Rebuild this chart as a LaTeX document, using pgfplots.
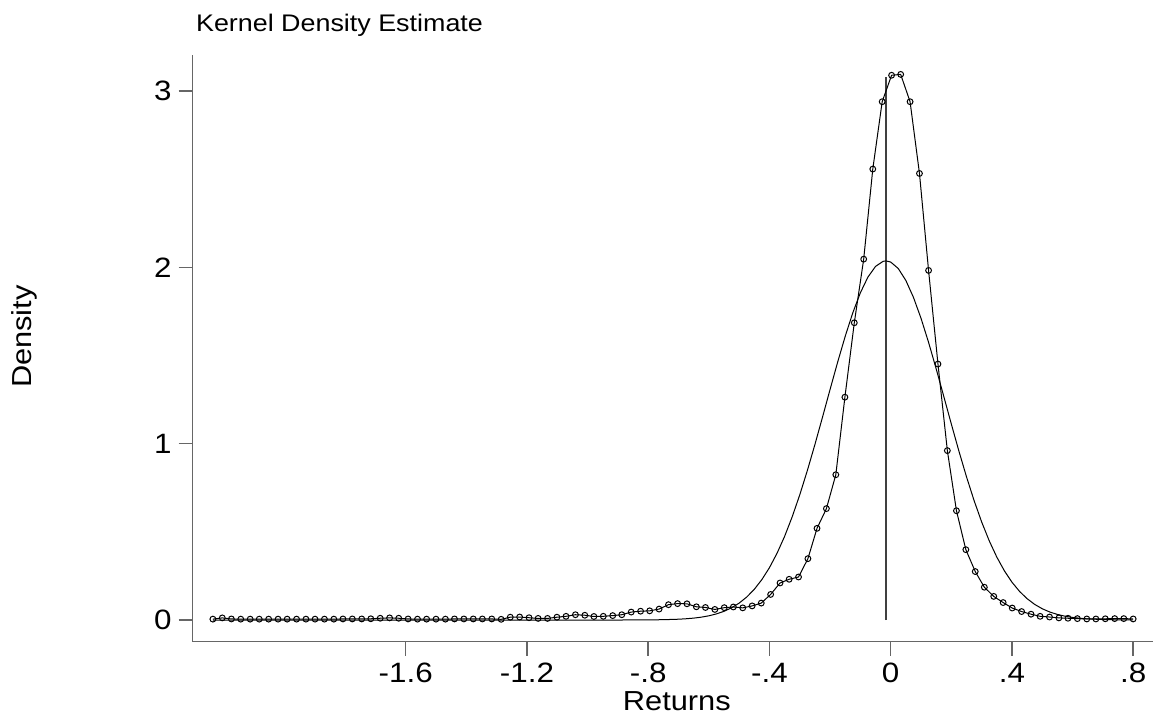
\documentclass[border=0pt]{standalone}
\usepackage{pgfplots}
\pgfplotsset{compat=1.18}
\usepackage{pgfplotstable}
\usepackage{fontspec}
\setmainfont[FakeStretch=1.12]{Liberation Sans}

\pgfplotstableread{
x y
-2.236 0.005
-2.205 0.012
-2.175 0.006
-2.144 0.005
-2.113 0.005
-2.083 0.005
-2.052 0.005
-2.021 0.005
-1.991 0.005
-1.960 0.005
-1.929 0.005
-1.899 0.005
-1.868 0.005
-1.837 0.005
-1.807 0.006
-1.776 0.006
-1.745 0.006
-1.715 0.007
-1.684 0.010
-1.653 0.012
-1.623 0.010
-1.592 0.006
-1.561 0.005
-1.531 0.005
-1.500 0.005
-1.469 0.005
-1.439 0.006
-1.408 0.006
-1.377 0.006
-1.347 0.006
-1.316 0.006
-1.285 0.004
-1.255 0.016
-1.224 0.017
-1.193 0.013
-1.163 0.009
-1.132 0.009
-1.101 0.016
-1.071 0.021
-1.040 0.030
-1.009 0.027
-0.979 0.020
-0.948 0.021
-0.917 0.025
-0.887 0.030
-0.856 0.045
-0.825 0.050
-0.795 0.052
-0.764 0.062
-0.733 0.087
-0.703 0.093
-0.672 0.092
-0.641 0.075
-0.611 0.071
-0.580 0.060
-0.549 0.070
-0.519 0.074
-0.488 0.069
-0.457 0.080
-0.427 0.096
-0.396 0.145
-0.365 0.210
-0.335 0.231
-0.304 0.244
-0.273 0.348
-0.243 0.520
-0.212 0.632
-0.181 0.824
-0.151 1.264
-0.120 1.686
-0.089 2.047
-0.059 2.558
-0.028 2.940
0.003 3.090
0.033 3.095
0.064 2.940
0.095 2.533
0.125 1.983
0.156 1.452
0.187 0.961
0.217 0.620
0.248 0.399
0.279 0.275
0.309 0.186
0.340 0.134
0.371 0.099
0.401 0.068
0.432 0.048
0.463 0.033
0.493 0.021
0.524 0.017
0.555 0.012
0.585 0.010
0.616 0.008
0.647 0.006
0.677 0.006
0.708 0.007
0.739 0.008
0.769 0.008
0.800 0.006
}\kerneltable

\pgfplotstableread{
x y
-2.236 0.0
-0.900 0.0
-0.850 0.0002
-0.800 0.0007
-0.750 0.0018
-0.700 0.0045
-0.675 0.0071
-0.650 0.0107
-0.625 0.0161
-0.600 0.0238
-0.575 0.0345
-0.550 0.0493
-0.525 0.0692
-0.500 0.0957
-0.475 0.1301
-0.450 0.1740
-0.425 0.2291
-0.400 0.2968
-0.375 0.3782
-0.350 0.4741
-0.325 0.5848
-0.300 0.7096
-0.275 0.8472
-0.250 0.9950
-0.225 1.1499
-0.200 1.3073
-0.175 1.4623
-0.150 1.6093
-0.125 1.7424
-0.100 1.8561
-0.075 1.9452
-0.050 2.0057
-0.025 2.0346
-0.0155 2.0370
0.000 2.0306
0.025 1.9939
0.050 1.9263
0.075 1.8308
0.100 1.7120
0.125 1.5751
0.150 1.4256
0.175 1.2696
0.200 1.1123
0.225 0.9588
0.250 0.8131
0.275 0.6784
0.300 0.5569
0.325 0.4498
0.350 0.3573
0.375 0.2794
0.400 0.2149
0.425 0.1626
0.450 0.1210
0.475 0.0887
0.500 0.0639
0.525 0.0453
0.550 0.0316
0.575 0.0217
0.600 0.0146
0.625 0.0097
0.650 0.0064
0.700 0.0026
0.750 0.0010
0.800 0.0003
}\normaltable

\pgfplotstableread{
x y
-0.0155 0
-0.0155 3.08
}\meanline

\begin{document}
\begin{tikzpicture}
\useasboundingbox (-96.35pt,-37.65pt) rectangle (480.15pt,320.85pt);
\begin{axis}[
  at={(0pt,0pt)}, anchor=south west,
  scale only axis, width=480.15pt, height=293.35pt,
  xmin=-2.3026, xmax=0.8654, ymin=-0.123, ymax=3.205,
  axis lines*=left,
  axis line style={black!60, line width=0.7pt},
  tick align=outside,
  major tick length=7pt,
  tick style={black!60, line width=0.7pt},
  xtick={-1.6,-1.2,-0.8,-0.4,0,0.4,0.8},
  xticklabels={-1.6,-1.2,-.8,-.4,0,.4,.8},
  ytick={0,1,2,3},
  yticklabels={0,1,2,3},
  tick label style={font=\fontsize{14pt}{16pt}\selectfont},
  title={Kernel Density Estimate},
  title style={at={([xshift=1.5pt,yshift=5.65pt]rel axis cs:0,1)}, anchor=base west, inner sep=0pt, font=\fontsize{12pt}{14pt}\selectfont},
  xlabel={Returns},
  xlabel style={at={([xshift=2pt,yshift=-34.65pt]rel axis cs:0.5,0)}, anchor=base, inner sep=0pt, font=\fontsize{13.75pt}{16pt}\selectfont},
  ylabel={Density},
  ylabel style={at={([xshift=-80.35pt]rel axis cs:0,0.52)}, anchor=base, inner sep=0pt, font=\fontsize{13.75pt}{16pt}\selectfont},
  clip=false,
]
\addplot[black!75, line width=0.6pt] table {\meanline};
\addplot[black, line width=0.5pt] table {\normaltable};
\addplot[black, line width=0.5pt, mark=o, mark size=1.45pt, mark options={line width=0.5pt}] table {\kerneltable};
\end{axis}
\end{tikzpicture}
\end{document}
